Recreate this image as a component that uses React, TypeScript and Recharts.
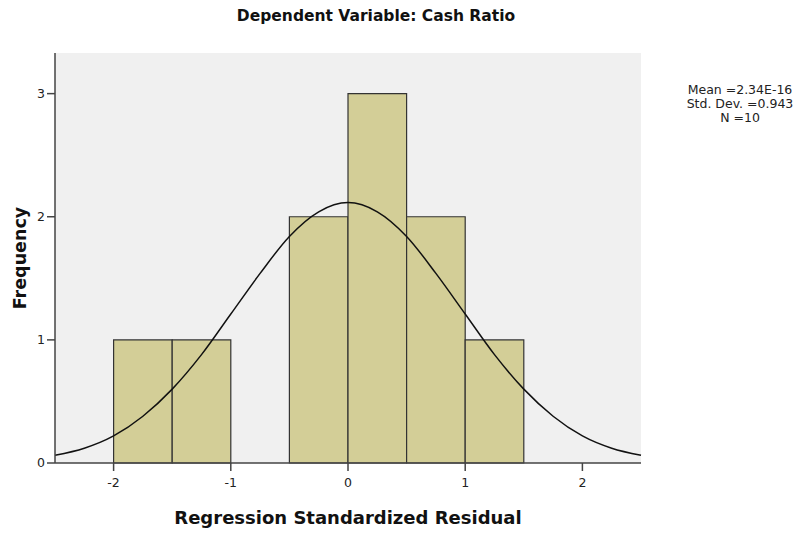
import React from 'react';
import { ComposedChart, Line, XAxis, YAxis, CartesianGrid, ReferenceArea, Label } from 'recharts';

// histogram bins (width 0.5) and their frequencies
const binStarts = [-2, -1.5, -1, -0.5, 0, 0.5, 1];
const binCounts = [1, 1, 0, 2, 3, 2, 1];
const BIN_WIDTH = 0.5;

// normal curve
const curveX = [-2.5, -2.25, -2, -1.75, -1.5, -1.25, -1, -0.75, -0.5, -0.25, 0, 0.25, 0.5, 0.75, 1, 1.25, 1.5, 1.75, 2, 2.25, 2.5];
const curveY = [0.063, 0.12, 0.22, 0.38, 0.6, 0.88, 1.21, 1.54, 1.84, 2.04, 2.115, 2.04, 1.84, 1.54, 1.21, 0.88, 0.6, 0.38, 0.22, 0.12, 0.063];

const xTicks = [-2, -1, 0, 1, 2];
const yTicks = [0, 1, 2, 3];

const statLines = ['Mean =2.34E-16', 'Std. Dev. =0.943', 'N =10'];

const FONT = '"DejaVu Sans", Verdana, sans-serif';

const App: React.FC = () => {
  const curve = curveX.map((x, i) => ({ x, y: curveY[i] }));
  const bins = binStarts
    .map((start, i) => ({ start, end: start + BIN_WIDTH, count: binCounts[i] }))
    .filter(b => b.count > 0);

  return (
    <div style={{ position: 'absolute', left: 0, top: 0, width: 801, height: 535, background: '#fff', fontFamily: FONT }}>
      <div
        style={{
          position: 'absolute', left: 176, width: 400, top: 7, textAlign: 'center',
          fontSize: 15.5, fontWeight: 'bold', color: '#111',
        }}
      >
        Dependent Variable: Cash Ratio
      </div>
      <div
        style={{
          position: 'absolute', left: 680, width: 120, top: 83, textAlign: 'center',
          fontSize: 12.5, lineHeight: '14px', color: '#222',
        }}
      >
        {statLines.map(s => <div key={s}>{s}</div>)}
      </div>
      <ComposedChart
        width={801}
        height={535}
        data={curve}
        margin={{ top: 53, right: 160, left: 0, bottom: 42 }}
        style={{ fontFamily: FONT }}
      >
        <CartesianGrid fill="#F0F0F0" horizontal={false} vertical={false} />
        <XAxis
          dataKey="x"
          type="number"
          domain={[-2.5, 2.5]}
          ticks={xTicks}
          height={30}
          axisLine={{ stroke: '#444', strokeWidth: 1.5 }}
          tickLine={{ stroke: '#444', strokeWidth: 1.5 }}
          tickSize={8}
          tickMargin={7}
          tick={{ fill: '#222', fontSize: 12.5 }}
        >
          <Label
            value="Regression Standardized Residual"
            position="insideBottom"
            offset={-31}
            style={{ fontSize: 18, fontWeight: 'bold', fill: '#111' }}
          />
        </XAxis>
        <YAxis
          type="number"
          domain={[0, 3.33]}
          ticks={yTicks}
          width={55}
          axisLine={{ stroke: '#444', strokeWidth: 1.5 }}
          tickLine={{ stroke: '#444', strokeWidth: 1.5 }}
          tickSize={8}
          tick={{ fill: '#222', fontSize: 12.5 }}
          allowDataOverflow
        >
          <Label
            value="Frequency"
            angle={-90}
            position="insideLeft"
            offset={20}
            style={{ fontSize: 17.5, fontWeight: 'bold', fill: '#111', textAnchor: 'middle' }}
          />
        </YAxis>
        {bins.map(b => (
          <ReferenceArea
            key={b.start}
            x1={b.start}
            x2={b.end}
            y1={0}
            y2={b.count}
            fill="#D3CE97"
            fillOpacity={1}
            stroke="#333"
            strokeWidth={1.2}
          />
        ))}
        <Line
          dataKey="y"
          type="monotone"
          stroke="#111"
          strokeWidth={1.5}
          dot={false}
          isAnimationActive={false}
        />
        <ReferenceArea fill="none" fillOpacity={0} stroke="#444" strokeWidth={1.5} />
      </ComposedChart>
    </div>
  );
};

export default App;
